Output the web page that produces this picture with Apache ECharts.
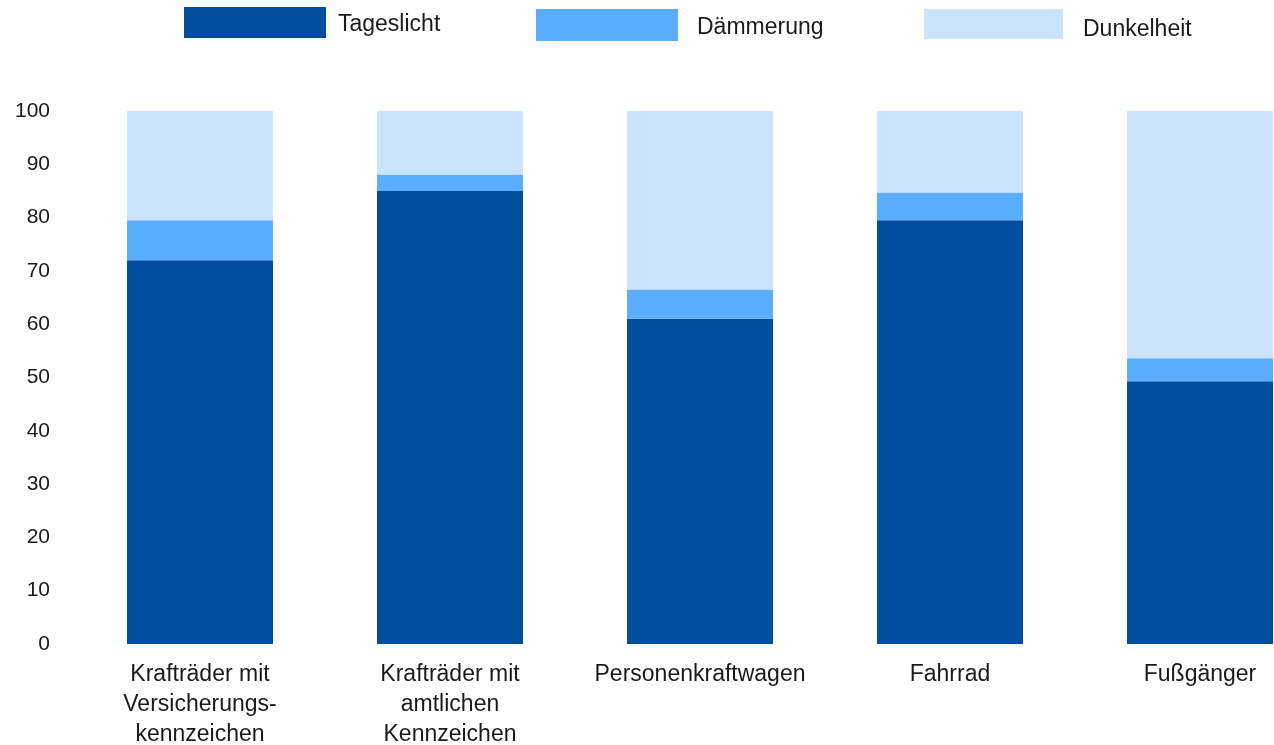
<!DOCTYPE html>
<html>
<head>
<meta charset="utf-8">
<script src="https://cdn.jsdelivr.net/npm/echarts@6/dist/echarts.min.js"></script>
<style>
html,body{margin:0;padding:0;background:#fff;}
#main{width:1274px;height:745px;}
</style>
</head>
<body>
<div id="main"></div>
<script>
var categories = ['Krafträder mit\nVersicherungs-\nkennzeichen', 'Krafträder mit\namtlichen\nKennzeichen', 'Personenkraftwagen', 'Fahrrad', 'Fußgänger'];
var tageslicht = [72.0, 85.0, 61.0, 79.5, 49.3];
var daemmerung = [7.5, 3.1, 5.5, 5.2, 4.3];
var dunkelheit = [20.5, 11.9, 33.5, 15.3, 46.4];

var font = 'Liberation Sans';
var txt = '#1a1a1a';

function legendText(padTop, padLeft) {
    return {
        fontFamily: font, fontSize: 23, color: txt,
        rich: {a: {fontFamily: font, fontSize: 23, color: txt, padding: [padTop, 0, 0, padLeft]}}
    };
}

var myChart = echarts.init(document.getElementById('main'));
var option = {
    animation: false,
    legend: [
        {
            data: ['Tageslicht'], left: 179, top: 2,
            itemWidth: 142, itemHeight: 31, icon: 'rect',
            formatter: '{a|{name}}',
            textStyle: legendText(4, 7)
        },
        {
            data: ['Dämmerung'], left: 531, top: 4,
            itemWidth: 142, itemHeight: 32, icon: 'rect',
            formatter: '{a|{name}}',
            textStyle: legendText(6, 14)
        },
        {
            data: ['Dunkelheit'], left: 919, top: 4,
            itemWidth: 139, itemHeight: 30, icon: 'rect',
            formatter: '{a|{name}}',
            textStyle: legendText(12, 15)
        }
    ],
    grid: {left: 75, width: 1250, top: 111, bottom: 101, containLabel: false, outerBoundsMode: 'none'},
    xAxis: {
        type: 'category',
        data: categories,
        axisLine: {show: false},
        axisTick: {show: false},
        axisLabel: {fontFamily: font, fontSize: 23, color: txt, lineHeight: 30, margin: 16, interval: 0}
    },
    yAxis: {
        type: 'value',
        min: 0, max: 100, interval: 10,
        axisLine: {show: false},
        axisTick: {show: false},
        splitLine: {show: false},
        axisLabel: {fontFamily: font, fontSize: 21, color: txt, margin: 25}
    },
    series: [
        {name: 'Tageslicht', type: 'bar', stack: 'a', barWidth: 146, data: tageslicht, itemStyle: {color: '#004e9e'}},
        {name: 'Dämmerung', type: 'bar', stack: 'a', barWidth: 146, data: daemmerung, itemStyle: {color: '#5badff'}},
        {name: 'Dunkelheit', type: 'bar', stack: 'a', barWidth: 146, data: dunkelheit, itemStyle: {color: '#cae3ff'}}
    ]
};
myChart.setOption(option);
</script>
</body>
</html>
